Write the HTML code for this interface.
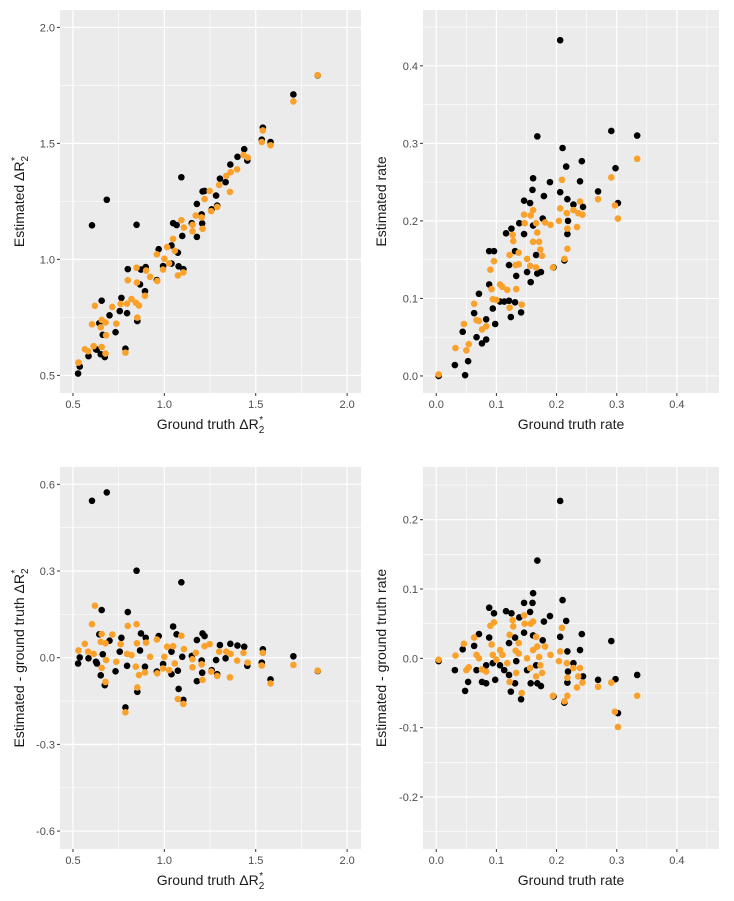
<!DOCTYPE html>
<html><head><meta charset="utf-8"><style>
html,body{margin:0;padding:0;background:#fff;}
svg{display:block;font-family:"Liberation Sans",Arial,sans-serif;}
</style></head><body>
<svg id="chart" width="734" height="901" viewBox="0 0 734 901"></svg>
<script>
// Left panels: ground truth ΔR2*, estimated - truth (black / orange)
const leftTruthBlack=[.604,.685,.848,1.093,.657,.8,1.048,.644,.765,.872,.898,.969,1.067,1.209,1.22,1.178,1.304,1.361,1.4,1.437,1.539,1.706,1.839,.528,.537,.585,.631,.663,.652,.674,.733,.796,.852,.787,.867,.894,.959,.993,1.039,1.074,1.078,1.104,1.039,1.098,1.15,1.204,1.207,1.178,1.259,1.283,1.289,1.335,1.454,1.533,1.581,.7,.756,.626];
const leftDiffBlack=[.543,.572,.301,.261,.165,.158,.108,.081,.069,.084,.069,.075,.081,.084,.075,.061,.044,.048,.042,.038,.029,.005,-.046,-.02,.001,-.002,-.02,.012,-.061,-.095,-.047,-.028,-.118,-.172,.025,-.031,-.048,-.022,-.057,-.045,-.108,-.146,.021,.003,.006,-.01,-.052,-.081,-.043,-.008,-.057,-.002,-.028,-.017,-.075,.059,.021,-.014];
const leftTruthOrange=[.62,.604,.8,.848,1.093,.565,.53,.583,.657,.652,.715,.678,.761,.85,.9,.959,1.015,1.048,1.107,1.172,1.22,1.248,1.3,1.339,1.363,1.433,1.539,.613,.681,.737,.657,.678,.796,.844,.861,.894,.852,.787,.961,.993,1.026,1.057,1.074,1.104,1.154,1.154,1.204,1.209,1.256,1.289,1.359,1.398,1.456,1.533,1.581,1.706,1.839,.922,1.0,.82];
const leftDiffOrange=[.18,.116,.11,.116,.076,.048,.025,.021,.082,.055,.08,.05,.047,.05,.052,.063,.038,.04,.03,.017,.04,.047,.021,.021,.013,.017,.017,.013,-.008,-.014,-.035,-.084,.013,-.031,-.06,-.051,-.103,-.189,-.054,-.037,-.043,-.02,-.143,-.16,-.005,-.033,-.023,-.077,-.048,-.063,-.068,-.01,-.017,-.027,-.089,-.025,-.045,.003,.003,.009];
// Right panels: ground truth rate, estimated - truth
const rightTruthBlack=[.206,.168,.161,.21,.088,.096,.116,.125,.146,.156,.16,.138,.179,.189,.216,.242,.206,.161,.131,.088,.071,.063,.044,.004,.031,.053,.048,.067,.076,.083,.098,.094,.106,.113,.121,.121,.124,.133,.141,.131,.151,.157,.168,.174,.177,.166,.195,.213,.218,.218,.219,.228,.239,.244,.269,.291,.298,.302,.334,.083,.146];
const rightDiffBlack=[.227,.141,.094,.084,.073,.065,.068,.065,.08,.067,.08,.059,.053,.061,.054,.035,.031,.033,.03,.03,.035,.018,.013,-.004,-.017,-.034,-.047,-.017,-.034,-.036,-.031,-.007,-.01,-.017,.022,-.024,-.048,-.004,-.059,-.036,-.017,-.036,-.036,-.04,.026,-.01,-.055,-.064,.01,-.035,-.019,-.007,.012,-.026,-.031,.025,-.03,-.079,-.024,-.01,.037];
const rightTruthOrange=[.004,.032,.046,.05,.054,.063,.067,.071,.076,.083,.09,.096,.092,.094,.1,.106,.11,.118,.122,.127,.128,.122,.137,.132,.137,.133,.142,.146,.147,.157,.161,.151,.156,.161,.166,.168,.171,.173,.176,.181,.166,.19,.194,.206,.204,.209,.213,.217,.218,.218,.228,.239,.236,.234,.243,.269,.291,.297,.302,.334];
const rightDiffOrange=[-.002,.004,.021,-.017,-.013,.03,.005,0,-.016,-.019,.047,.052,.02,.005,-.002,.012,.005,-.007,-.034,.055,.046,.034,.022,.011,.007,-.021,-.05,.062,.05,.05,.053,0,-.014,.012,.031,.017,.002,-.01,-.021,.017,-.026,.005,-.054,.01,-.004,.044,-.062,-.007,-.028,-.054,-.014,-.014,-.026,-.042,-.035,-.041,-.035,-.077,-.099,-.054];
const leftXTicks=[0.5,1.0,1.5,2.0], leftXTickLabels=["0.5","1.0","1.5","2.0"];
const tlYTicks=[0.5,1.0,1.5,2.0], tlYTickLabels=["0.5","1.0","1.5","2.0"];
const rightXTicks=[0,0.1,0.2,0.3,0.4], rightXTickLabels=["0.0","0.1","0.2","0.3","0.4"];
const trYTicks=[0,0.1,0.2,0.3,0.4], trYTickLabels=["0.0","0.1","0.2","0.3","0.4"];
const blYTicks=[-0.6,-0.3,0,0.3,0.6], blYTickLabels=["-0.6","-0.3","0.0","0.3","0.6"];
const brYTicks=[-0.2,-0.1,0,0.1,0.2], brYTickLabels=["-0.2","-0.1","0.0","0.1","0.2"];

const NS="http://www.w3.org/2000/svg";
const svg=document.getElementById('chart');
function mk(tag,attrs,parent){const e=document.createElementNS(NS,tag);for(const k in attrs)e.setAttribute(k,attrs[k]);(parent||svg).appendChild(e);return e;}

function panel(name,box,xd,yd,xt,xtl,yt,ytl,xo,useDiff,xb,yb,yo,unused,xTitle,yTitle,unused2,ytx){
  const g=mk('g',{});
  
  
  const sx=v=>box.x0+(v-xd[0])/(xd[1]-xd[0])*(box.x1-box.x0);
  const sy=v=>box.y1-(v-yd[0])/(yd[1]-yd[0])*(box.y1-box.y0);
  const bg=mk('rect',{x:box.x0,y:box.y0,width:box.x1-box.x0,height:box.y1-box.y0,fill:'#ebebeb'},g);
  
  
  const dx=xt[1]-xt[0], dy=yt[1]-yt[0];
  for(let i=-1;i<xt.length;i++){const v=xt[0]+dx*(i+0.5);if(v>xd[0]&&v<xd[1])mk('line',{x1:sx(v),x2:sx(v),y1:box.y0,y2:box.y1,stroke:'#fff','stroke-width':0.6},g);}
  for(let i=-1;i<yt.length;i++){const v=yt[0]+dy*(i+0.5);if(v>yd[0]&&v<yd[1])mk('line',{y1:sy(v),y2:sy(v),x1:box.x0,x2:box.x1,stroke:'#fff','stroke-width':0.6},g);}
  xt.forEach((v,i)=>{mk('line',{x1:sx(v),x2:sx(v),y1:box.y0,y2:box.y1,stroke:'#fff','stroke-width':1.2},g);
    mk('line',{x1:sx(v),x2:sx(v),y1:box.y1,y2:box.y1+3,stroke:'#333','stroke-width':1},g);
    const t=mk('text',{x:sx(v),y:box.y1+15,'text-anchor':'middle','font-size':11,fill:'#4d4d4d'},g);t.textContent=xtl[i];
    
    });
  yt.forEach((v,i)=>{mk('line',{y1:sy(v),y2:sy(v),x1:box.x0,x2:box.x1,stroke:'#fff','stroke-width':1.2},g);
    mk('line',{y1:sy(v),y2:sy(v),x1:box.x0-3,x2:box.x0,stroke:'#333','stroke-width':1},g);
    const t=mk('text',{x:box.x0-5,y:sy(v)+4,'text-anchor':'end','font-size':11,fill:'#4d4d4d'},g);t.textContent=ytl[i];
    
    });
  const plotPts=(xsArr,diffArr,col)=>{xsArr.forEach((xv,i)=>{const yv=useDiff?diffArr[i]:xv+diffArr[i];
    const c=mk('circle',{cx:sx(xv),cy:sy(yv),r:3.3,fill:col},g);
    
    });};
  plotPts(xb,yb,'#000');
  plotPts(xo,yo,'#f9a12b');
  const xtT=mk('text',{x:(box.x0+box.x1)/2,y:box.y1+36,'text-anchor':'middle','font-size':14,fill:'#1a1a1a'},g);
  xtT.innerHTML=xTitle;
  
  
  const ytT=mk('text',{x:0,y:0,transform:`translate(${ytx},${(box.y0+box.y1)/2}) rotate(-90)`,'text-anchor':'middle','font-size':14,fill:'#1a1a1a'},g);
  ytT.innerHTML=yTitle;
  
  
}
const dR='ΔR<tspan font-size="10" dy="4">2</tspan><tspan font-size="10" dy="-10" dx="-5">*</tspan>';
panel('panel-estimated-dr2',{x0:60,x1:361,y0:10,y1:393},[0.429,2.076],[0.424,2.075],leftXTicks,leftXTickLabels,tlYTicks,tlYTickLabels,leftTruthOrange,false,leftTruthBlack,leftDiffBlack,leftDiffOrange,'','Ground truth '+dR,'Estimated '+dR,0,24);
panel('panel-estimated-rate',{x0:423,x1:719,y0:10,y1:393},[-0.022,0.470],[-0.022,0.472],rightXTicks,rightXTickLabels,trYTicks,trYTickLabels,rightTruthOrange,false,rightTruthBlack,rightDiffBlack,rightDiffOrange,'','Ground truth rate','Estimated rate',0,386);
panel('panel-diff-dr2',{x0:60,x1:361,y0:467,y1:849},[0.429,2.076],[-0.662,0.66],leftXTicks,leftXTickLabels,blYTicks,blYTickLabels,leftTruthOrange,true,leftTruthBlack,leftDiffBlack,leftDiffOrange,'','Ground truth '+dR,'Estimated - ground truth '+dR,0,24);
panel('panel-diff-rate',{x0:423,x1:719,y0:467,y1:849},[-0.022,0.470],[-0.275,0.276],rightXTicks,rightXTickLabels,brYTicks,brYTickLabels,rightTruthOrange,true,rightTruthBlack,rightDiffBlack,rightDiffOrange,'','Ground truth rate','Estimated - ground truth rate',0,386);
</script>
</body></html>
